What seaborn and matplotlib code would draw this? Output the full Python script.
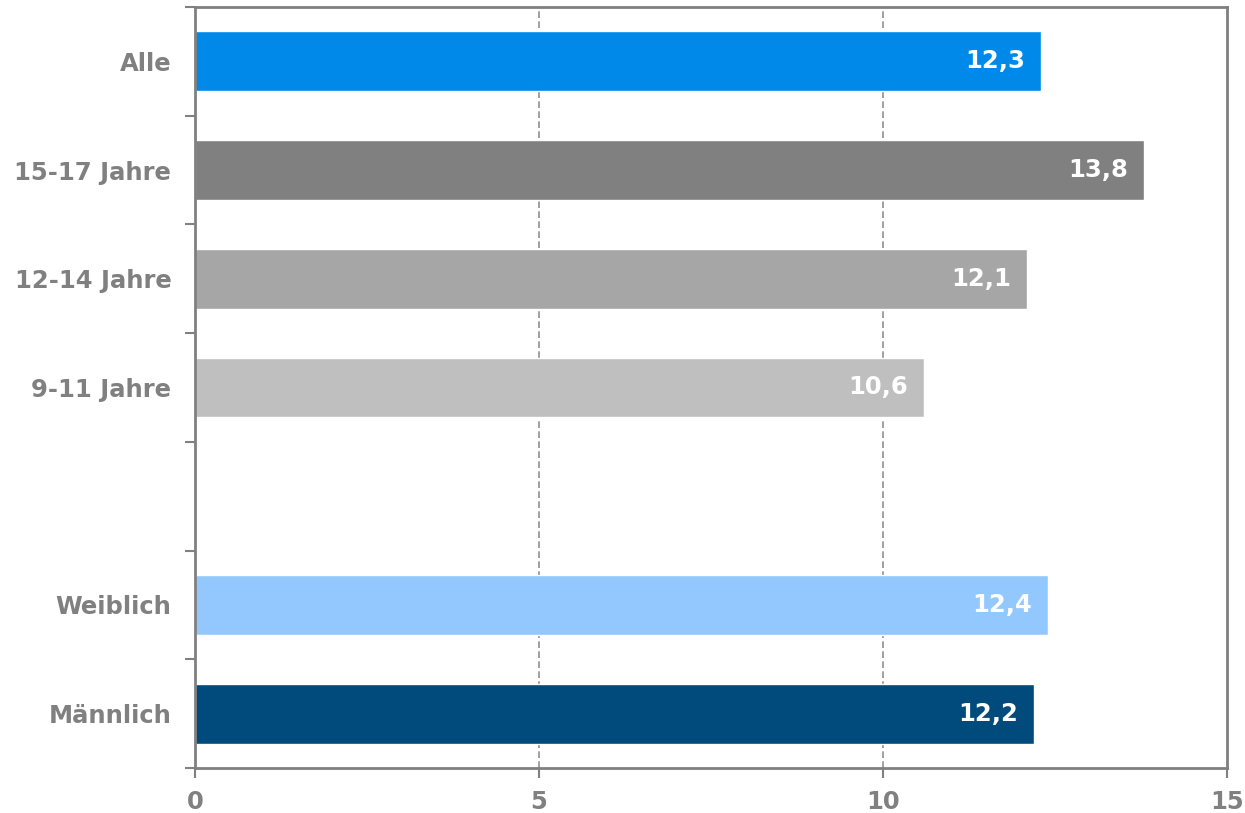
import matplotlib
matplotlib.use("Agg")
import matplotlib.pyplot as plt
import seaborn as sns
import pandas as pd
import numpy as np

categories = ["Alle", "15-17 Jahre", "12-14 Jahre", "9-11 Jahre", " ", "Weiblich", "Männlich"]
values = [12.3, 13.8, 12.1, 10.6, np.nan, 12.4, 12.2]
colors = ["#0089E8", "#808080", "#A6A6A6", "#BFBFBF", "#FFFFFF", "#93C8FF", "#004A7C"]
xticks = [0, 5, 10, 15]

sns.set_style("white")
plt.rcParams['font.family'] = ['DejaVu Sans']

df = pd.DataFrame({"cat": categories, "val": values})

fig = plt.figure(figsize=(12.45, 8.13), dpi=100)
ax = fig.add_axes([0.1566, 0.0554, 0.8289, 0.936])

sns.barplot(data=df, x="val", y="cat", hue="cat", palette=dict(zip(categories, colors)),
            order=categories, orient="h", width=0.55, legend=False, ax=ax, saturation=1)

grey = "#808080"
fs = 17.5
ax.set_xlim(0, 15)
ax.set_ylim(len(categories) - 0.5, -0.5)
ax.set_xticks(xticks)
ax.set_xticklabels([str(t) for t in xticks], fontsize=fs, fontweight="bold", color=grey)
ax.set_yticks(range(len(categories)))
ax.set_yticklabels(categories, fontsize=fs, fontweight="bold", color=grey)
ax.tick_params(axis="y", which="major", length=0, pad=17)
ax.set_yticks(np.arange(-0.5, len(categories) + 0.5, 1), minor=True)
ax.tick_params(axis="y", which="minor", length=7, width=1.5, color=grey, direction="out", left=True)
ax.tick_params(axis="x", which="major", length=7, width=1.5, color=grey, direction="out", bottom=True, pad=9)
ax.set_xlabel("")
ax.set_ylabel("")

for x in [5, 10]:
    ax.axvline(x, color="#909090", linestyle=(0, (4, 2)), linewidth=1.2, zorder=0)

for s in ax.spines.values():
    s.set_visible(True)
    s.set_color(grey)
    s.set_linewidth(2)

for i, v in enumerate(values):
    if not np.isnan(v):
        ax.text(v - 0.24, i, f"{v:.1f}".replace(".", ","), ha="right", va="center",
                color="white", fontsize=fs, fontweight="bold")

fig.savefig("out.png", dpi=100)
